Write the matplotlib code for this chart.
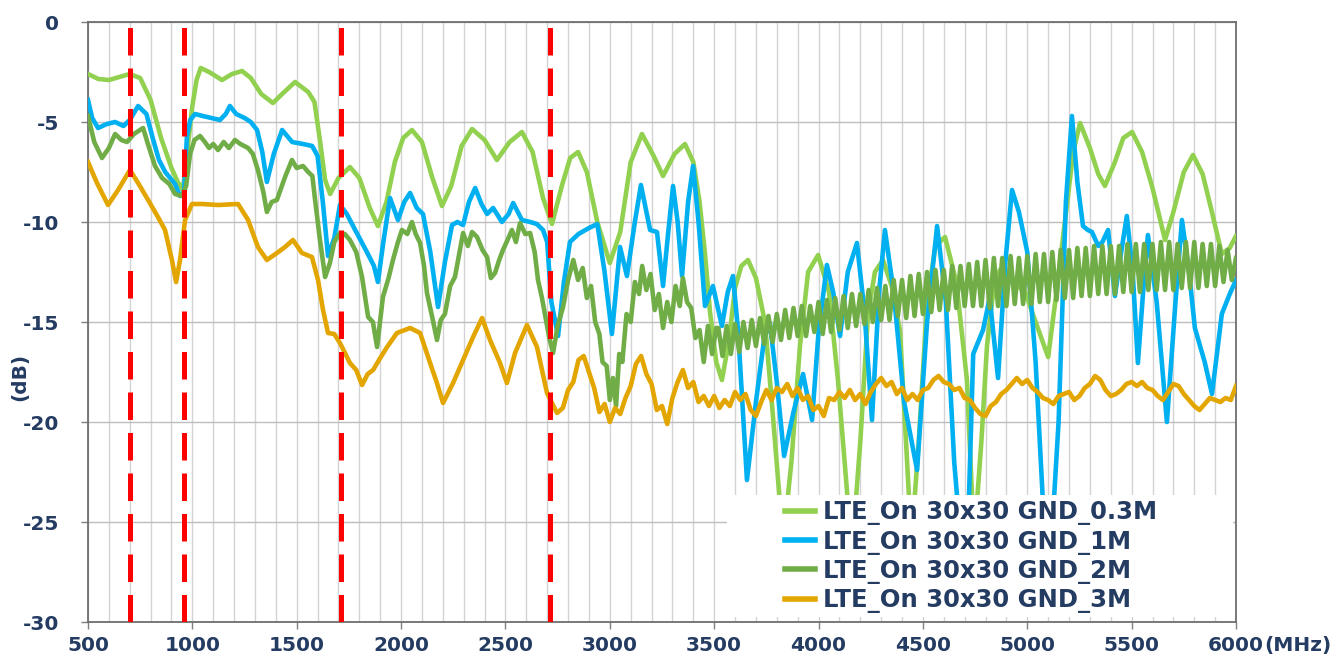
import matplotlib
matplotlib.use("Agg")
import matplotlib.pyplot as plt
from matplotlib.patches import Rectangle
from matplotlib.ticker import MultipleLocator

# frequency (MHz) / level (dB), one pair of lists per curve
freq_03 = [500, 550, 600, 650, 700, 750, 800, 850, 900, 930, 955, 975, 1000, 1020, 1040, 1080, 1142, 1190, 1238, 1280,
           1330, 1386, 1430, 1492, 1530, 1555, 1585, 1611, 1636, 1660, 1700, 1755, 1800, 1850, 1889, 1930, 1970, 2010,
           2052, 2100, 2150, 2196, 2240, 2290, 2340, 2400, 2459, 2520, 2579, 2630, 2680, 2723, 2770, 2810, 2848, 2890,
           2940, 3000, 3050, 3100, 3154, 3210, 3255, 3310, 3360, 3400, 3430, 3456, 3480, 3510, 3537, 3570, 3600, 3630,
           3662, 3700, 3743, 3780, 3830, 3870, 3911, 3950, 3998, 4050, 4093, 4160, 4200, 4237, 4270, 4309, 4350, 4390,
           4445, 4480, 4520, 4560, 4606, 4660, 4711, 4745, 4780, 4807, 4840, 4869, 4930, 4990, 5040, 5100, 5140, 5180,
           5220, 5253, 5300, 5340, 5372, 5420, 5460, 5502, 5550, 5600, 5660, 5700, 5750, 5794, 5840, 5880, 5932, 5970,
           6000]
db_03 = [-2.6, -2.85, -2.9, -2.75, -2.6, -2.8, -3.9, -5.8, -7.3, -8.0, -8.4, -6.5, -4.2, -2.9, -2.3, -2.5, -2.9, -2.6,
         -2.45, -2.8, -3.6, -4.05, -3.6, -3.0, -3.3, -3.5, -4.0, -5.9, -7.9, -8.6, -7.8, -7.25, -7.8, -9.3, -10.2, -9.0,
         -7.0, -5.8, -5.4, -6.0, -7.8, -9.2, -8.2, -6.2, -5.35, -5.9, -6.9, -6.0, -5.5, -6.5, -8.8, -10.1, -8.2, -6.8,
         -6.5, -7.5, -10.0, -12.05, -10.5, -7.0, -5.6, -6.7, -7.7, -6.6, -6.1, -7.0, -9.0, -11.6, -14.5, -17.0, -17.9,
         -16.0, -13.3, -12.2, -11.9, -12.8, -15.0, -19.5, -26.0, -22.0, -16.2, -12.5, -11.65, -13.5, -17.9, -26.5, -21.0,
         -14.6, -12.5, -11.9, -13.2, -15.4, -26.0, -21.0, -14.0, -11.2, -10.75, -13.0, -17.9, -26.0, -21.0, -16.2, -13.2,
         -12.4, -13.0, -13.5, -15.0, -16.75, -13.5, -10.0, -6.5, -5.05, -6.3, -7.6, -8.2, -7.0, -5.8, -5.5, -6.5, -8.3,
         -10.9, -9.5, -7.5, -6.65, -7.6, -9.3, -11.6, -11.3, -10.7]

freq_1 = [500, 520, 548, 590, 630, 670, 700, 740, 780, 810, 840, 870, 917, 941, 960, 974, 990, 1013, 1050, 1090, 1132,
          1160, 1180, 1210, 1250, 1280, 1310, 1335, 1357, 1390, 1430, 1478, 1530, 1574, 1600, 1625, 1650, 1680, 1707,
          1740, 1780, 1836, 1870, 1889, 1915, 1947, 1985, 2015, 2043, 2075, 2105, 2140, 2177, 2210, 2244, 2270, 2297,
          2325, 2355, 2385, 2412, 2441, 2483, 2515, 2537, 2579, 2618, 2650, 2680, 2700, 2720, 2752, 2780, 2809, 2850,
          2900, 2940, 2975, 3010, 3049, 3082, 3120, 3149, 3193, 3226, 3255, 3280, 3303, 3325, 3346, 3375, 3399, 3425,
          3456, 3494, 3537, 3565, 3590, 3615, 3657, 3700, 3740, 3767, 3800, 3835, 3880, 3926, 3969, 4000, 4040, 4070,
          4103, 4140, 4184, 4220, 4256, 4290, 4318, 4360, 4410, 4472, 4520, 4568, 4610, 4650, 4690, 4720, 4741, 4788,
          4820, 4860, 4895, 4927, 4960, 5000, 5040, 5080, 5110, 5150, 5185, 5214, 5240, 5267, 5290, 5310, 5340, 5360,
          5387, 5420, 5450, 5477, 5505, 5530, 5555, 5578, 5620, 5669, 5710, 5741, 5775, 5803, 5850, 5885, 5932, 5970,
          6000]
db_1 = [-3.9, -4.8, -5.3, -5.1, -5.0, -5.2, -4.9, -4.2, -4.6, -5.8, -6.9, -7.5, -8.1, -8.7, -8.5, -5.7, -4.9, -4.6,
        -4.7, -4.8, -4.9, -4.6, -4.2, -4.6, -4.8, -5.0, -5.4, -6.5, -8.0, -6.6, -5.4, -6.0, -6.1, -6.2, -6.7, -9.0, -11.7,
        -10.8, -9.15, -9.6, -10.4, -11.5, -12.2, -13.0, -11.0, -8.8, -9.9, -9.0, -8.55, -9.3, -9.6, -11.5, -14.25, -12.0,
        -10.15, -10.0, -10.15, -9.0, -8.3, -9.1, -9.6, -9.3, -10.0, -9.6, -9.05, -9.9, -10.0, -10.1, -10.4, -11.0, -14.0,
        -15.7, -13.0, -11.0, -10.6, -10.3, -10.1, -12.5, -15.6, -11.25, -12.7, -10.0, -8.15, -10.4, -10.5, -13.2, -10.5,
        -8.2, -10.0, -12.7, -9.0, -7.2, -10.0, -14.2, -13.2, -15.2, -13.5, -12.7, -15.5, -22.9, -19.0, -15.8, -15.05,
        -18.0, -21.7, -19.5, -17.6, -19.9, -15.5, -12.15, -13.5, -15.7, -12.5, -11.05, -14.5, -19.9, -13.5, -10.4, -13.5,
        -19.0, -22.4, -15.0, -10.2, -14.0, -22.0, -27.0, -24.0, -16.6, -15.4, -13.8, -17.8, -12.0, -8.4, -9.5, -11.5,
        -17.0, -25.0, -27.0, -20.0, -9.0, -4.7, -8.0, -10.2, -10.4, -10.5, -11.2, -11.0, -10.4, -13.7, -11.5, -9.7,
        -12.5, -17.05, -13.5, -10.65, -14.0, -20.0, -14.0, -9.9, -12.5, -15.3, -17.0, -18.6, -14.6, -13.6, -12.9]

freq_2 = [500, 530, 567, 600, 630, 660, 687, 720, 764, 790, 821, 855, 890, 917, 950, 970, 989, 1010, 1037, 1060, 1080,
          1100, 1123, 1150, 1175, 1204, 1230, 1267, 1290, 1314, 1340, 1357, 1380, 1405, 1444, 1477, 1500, 1530, 1555,
          1575, 1588, 1610, 1636, 1659, 1680, 1707, 1730, 1755, 1785, 1813, 1842, 1865, 1885, 1913, 1940, 1961, 1985,
          2004, 2030, 2052, 2070, 2091, 2110, 2124, 2150, 2172, 2190, 2210, 2235, 2258, 2280, 2297, 2320, 2340, 2364,
          2390, 2412, 2430, 2450, 2470, 2488, 2510, 2531, 2550, 2570, 2595, 2618, 2640, 2656, 2675, 2690, 2710, 2728,
          2750, 2776, 2800, 2825, 2848, 2870, 2890, 2910, 2930, 2950, 2965, 2985, 3000, 3015, 3030, 3045, 3060, 3080,
          3100, 3120, 3140, 3155, 3175, 3195, 3215, 3235, 3255, 3275, 3295, 3315, 3335, 3350, 3370, 3390, 3410, 3430,
          3450, 3470, 3490, 3510,
          3520, 3540, 3560, 3580, 3600, 3620, 3640, 3660, 3680, 3700, 3720, 3740, 3760, 3780, 3800, 3820, 3840, 3860,
          3880, 3900, 3920, 3940, 3960, 3980, 4000, 4020, 4040, 4060, 4080, 4100, 4120, 4140, 4160, 4180, 4200, 4220,
          4240, 4260, 4280, 4300, 4320, 4340, 4360, 4380, 4400, 4420, 4440, 4460, 4480, 4500, 4520, 4540, 4560, 4580,
          4600, 4620, 4640, 4660, 4680, 4700, 4720, 4740, 4760, 4780, 4800, 4820, 4840, 4860, 4880, 4900, 4920, 4940,
          4960, 4980, 5000, 5020, 5040, 5060, 5080, 5100, 5120, 5140, 5160, 5180, 5200, 5220, 5240, 5260, 5280, 5300,
          5320, 5340, 5360, 5380, 5400, 5420, 5440, 5460, 5480, 5500, 5520, 5540, 5560, 5580, 5600, 5620, 5640, 5660,
          5680, 5700, 5720, 5740, 5760, 5780, 5800, 5820, 5840, 5860, 5880, 5900, 5920, 5940, 5960, 5980, 6000]
db_2 = [-4.7, -6.0, -6.8, -6.3, -5.6, -5.9, -6.0, -5.6, -5.3, -6.2, -7.2, -7.8, -8.1, -8.6, -8.7, -8.2, -6.6, -5.9,
        -5.7, -6.0, -6.3, -6.1, -6.4, -6.0, -6.3, -5.9, -6.1, -6.3, -6.6, -7.4, -8.5, -9.5, -9.0, -8.9, -7.75, -6.9,
        -7.3, -7.2, -7.5, -7.7, -8.9, -10.8, -12.75, -12.05, -11.0, -10.55, -10.6, -10.9, -11.5, -12.75, -14.75, -15.0,
        -16.25, -13.75, -12.8, -11.9, -11.0, -10.4, -10.6, -10.0, -10.6, -11.05, -12.2, -13.55, -14.8, -15.9, -14.9,
        -14.6, -13.2, -12.75, -11.5, -10.55, -11.2, -10.5, -10.75, -11.4, -11.75, -12.8, -12.55, -11.9, -11.4, -10.9,
        -10.4, -11.0, -10.05, -10.6, -10.55, -11.5, -12.9, -13.8, -14.65, -15.8, -16.55, -15.2, -14.25, -12.9,
        -11.9, -12.9, -12.3, -13.8, -13.2, -15.0, -15.6, -17.0, -17.2, -18.9, -17.8, -19.2, -16.6, -17.0, -14.6,
        -15.0, -13.0, -13.6, -12.2, -13.4, -12.6, -14.4, -13.6, -15.3, -14.0, -15.0, -13.2, -14.2, -12.8, -14.0,
        -14.3, -15.8, -15.4, -17.0, -15.2, -16.6, -15.3,
        -15.3, -16.7, -15.2, -16.6, -15.1, -16.5, -15.0, -16.3, -14.9, -16.2, -14.8, -16.1, -14.7, -16.0, -14.6, -15.9,
        -14.4, -15.8, -14.3, -15.7, -14.2, -15.7, -14.2, -15.5, -14.0, -15.6, -13.9, -15.5, -13.8, -15.4, -13.7, -15.3,
        -13.6, -15.2, -13.6, -15.1, -13.4, -15.0, -13.3, -14.9, -13.2, -14.9, -12.9, -14.7, -12.9, -14.8, -12.7, -14.7,
        -12.6, -14.6, -12.5, -14.5, -12.4, -14.4, -12.4, -14.4, -12.2, -14.3, -12.2, -14.2, -12.1, -14.2, -12.0, -14.2,
        -11.9, -14.3, -11.8, -14.2, -11.8, -14.2, -11.7, -14.1, -11.8, -14.1, -11.7, -14.1, -11.6, -14.0, -11.6, -14.0,
        -11.5, -13.9, -11.4, -13.8, -11.4, -13.8, -11.3, -13.7, -11.3, -13.7, -11.2, -13.6, -11.2, -13.6, -11.2, -13.6,
        -11.2, -13.5, -11.1, -13.5, -11.1, -13.5, -11.1, -13.4, -11.1, -13.4, -11.0, -13.4, -11.0, -13.4, -11.1, -13.3,
        -11.0, -13.3, -11.0, -13.3, -11.1, -13.2, -11.1, -13.2, -11.2, -13.0, -11.4, -12.9, -11.8]

freq_3 = [500, 543, 596, 644, 701, 740, 788, 835, 869, 902, 922, 941, 965, 998, 1046, 1123, 1219, 1267, 1314, 1357,
          1405, 1444, 1482, 1525, 1573, 1602, 1626, 1650, 1680, 1707, 1755, 1785, 1813, 1840, 1866, 1900, 1933, 1980,
          2043, 2091, 2139, 2170, 2201, 2249, 2297, 2345, 2388, 2426, 2474, 2507, 2546, 2603, 2651, 2699, 2747,
          2775, 2800, 2825, 2850, 2875, 2900, 2925, 2950, 2975, 3000, 3025, 3050, 3075, 3100, 3125, 3150, 3175, 3200,
          3225, 3250, 3275, 3300, 3325, 3350, 3375, 3400, 3425, 3450, 3475, 3500, 3525, 3550, 3575, 3600, 3625, 3650,
          3675, 3700, 3725, 3750, 3775, 3800, 3825, 3850, 3875, 3900, 3925, 3950, 3975, 4000, 4025, 4050, 4075, 4100,
          4125, 4150, 4175, 4200, 4225, 4250, 4275, 4300, 4325, 4350, 4375, 4400, 4425, 4450, 4475, 4500, 4525, 4550,
          4575, 4600, 4625, 4650, 4675, 4700, 4725, 4750, 4775, 4800, 4825, 4850, 4875, 4900, 4925, 4950, 4975, 5000,
          5025, 5050, 5075, 5100, 5125, 5150, 5175, 5200, 5225, 5250, 5275, 5300, 5325, 5350, 5375, 5400, 5425, 5450,
          5475, 5500, 5525, 5550, 5575, 5600, 5625, 5650, 5675, 5700, 5725, 5750, 5775, 5800, 5825, 5850, 5875, 5900,
          5925, 5950, 5975, 6000]
db_3 = [-7.0, -8.05, -9.15, -8.4, -7.4, -8.05, -8.9, -9.75, -10.4, -11.9, -13.0, -11.9, -9.9, -9.1, -9.1, -9.15, -9.1,
        -9.9, -11.25, -11.9, -11.55, -11.25, -10.9, -11.55, -11.75, -12.9, -14.4, -15.55, -15.6, -16.05, -17.05, -17.4,
        -18.15, -17.6, -17.4, -16.8, -16.25, -15.55, -15.3, -15.55, -17.05, -18.0, -19.05, -18.05, -16.9, -15.75, -14.8,
        -15.9, -17.05, -18.05, -16.55, -15.15, -16.25, -18.55, -19.55,
        -19.3, -18.4, -18.0, -16.9, -16.7, -17.5, -18.3, -19.5, -19.1, -20.0, -19.3, -19.6, -18.8, -18.2, -17.1, -16.7,
        -17.6, -18.1, -19.4, -19.2, -20.1, -18.8, -18.0, -17.4, -18.3, -18.0, -19.0, -18.7, -19.2, -18.7, -19.3, -18.9,
        -19.2, -18.5, -18.9, -18.6, -19.4, -19.7, -19.0, -18.4, -18.9, -18.3, -18.5, -18.1, -18.7, -18.3, -18.9, -18.7,
        -19.4, -19.2, -19.7, -18.8, -18.9, -18.5, -18.8, -18.4, -18.9, -18.6, -19.1, -18.5, -18.1, -17.8, -18.2, -18.0,
        -18.6, -18.3, -18.9, -18.6, -18.9, -18.4, -18.3, -17.9, -17.7, -18.0, -18.1, -18.4, -18.3, -18.8, -18.9, -19.3,
        -19.6, -19.7, -19.2, -19.0, -18.6, -18.4, -18.1, -17.8, -18.1, -17.9, -18.3, -18.5, -18.8, -18.9, -19.1, -18.7,
        -18.6, -18.5, -18.9, -18.7, -18.3, -18.1, -17.7, -17.9, -18.4, -18.7, -18.6, -18.4, -18.1, -18.0, -18.2, -18.0,
        -18.3, -18.4, -18.7, -18.9, -18.5, -18.1, -18.2, -18.6, -18.9, -19.2, -19.4, -19.1, -18.8, -18.9, -19.0, -18.8,
        -18.9, -18.2]

labels = ["LTE_On 30x30 GND_0.3M", "LTE_On 30x30 GND_1M", "LTE_On 30x30 GND_2M", "LTE_On 30x30 GND_3M"]
colors = ["#92D050", "#00B0F0", "#70AD47", "#E3A600"]
band_edges = [700, 960, 1710, 2715]

x_ticks = [500, 1000, 1500, 2000, 2500, 3000, 3500, 4000, 4500, 5000, 5500, 6000]
y_ticks = [-30, -25, -20, -15, -10, -5, 0]

navy = "#243B62"
plt.rcParams["font.family"] = ["DejaVu Sans"]
plt.rcParams["axes.unicode_minus"] = False

fig = plt.figure(figsize=(13.42, 6.58), dpi=100)
ax = fig.add_axes([88 / 1342, 1 - 622 / 658, 1148 / 1342, 600 / 658])

series = [(freq_03, db_03), (freq_1, db_1), (freq_2, db_2), (freq_3, db_3)]
for (f, d), lab, c in zip(series, labels, colors):
    ax.plot(f, d, color=c, lw=3.3, label=lab, solid_joinstyle="round", zorder=3)

for e in band_edges:
    ax.axvline(e, color="#FF0000", lw=3.6, dashes=(5.5, 2.6), zorder=4)

ax.set_xlim(500, 6000)
ax.set_ylim(-30, 0)
ax.set_xticks(x_ticks)
ax.set_yticks(y_ticks)
ax.xaxis.set_minor_locator(MultipleLocator(100))
ax.set_axisbelow(True)
ax.grid(True, which="major", axis="y", color="#BDBDBD", lw=1.0)
ax.grid(True, which="both", axis="x", color="#D3D3D3", lw=1.0)
ax.tick_params(axis="both", which="major", labelsize=14.5, labelcolor=navy, color="#7F7F7F", length=5, width=1)
ax.tick_params(axis="x", which="minor", length=0)
ax.tick_params(axis="x", pad=5)
ax.tick_params(axis="y", pad=16)
for t in ax.get_xticklabels() + ax.get_yticklabels():
    t.set_fontweight("bold")
for s in ax.spines.values():
    s.set_color("#6E6E6E")
    s.set_linewidth(1.3)

# white box that hides the lower right corner, as in the original
ax.add_patch(Rectangle((0.557, 0.008), 0.44, 0.204, transform=ax.transAxes,
                       facecolor="white", edgecolor="none", zorder=5))
leg = ax.legend(loc="upper left", bbox_to_anchor=(0.607, 0.203), frameon=False,
                prop={"size": 17.5, "weight": "bold"},
                handlelength=1.25, handletextpad=0.3, labelspacing=0.18, borderaxespad=0, borderpad=0)
leg.set_zorder(6)
for t in leg.get_texts():
    t.set_color(navy)
for h in leg.get_lines():
    h.set_linewidth(4)

fig.text(1298 / 1342, 1 - 646 / 658, "(MHz)", ha="center", va="center", fontsize=14.5,
         fontweight="bold", color=navy)
fig.text(20 / 1342, 1 - 377 / 658, "(dB)", ha="center", va="center", rotation=90, fontsize=14.5,
         fontweight="bold", color=navy)

fig.savefig("out.png", dpi=100)
